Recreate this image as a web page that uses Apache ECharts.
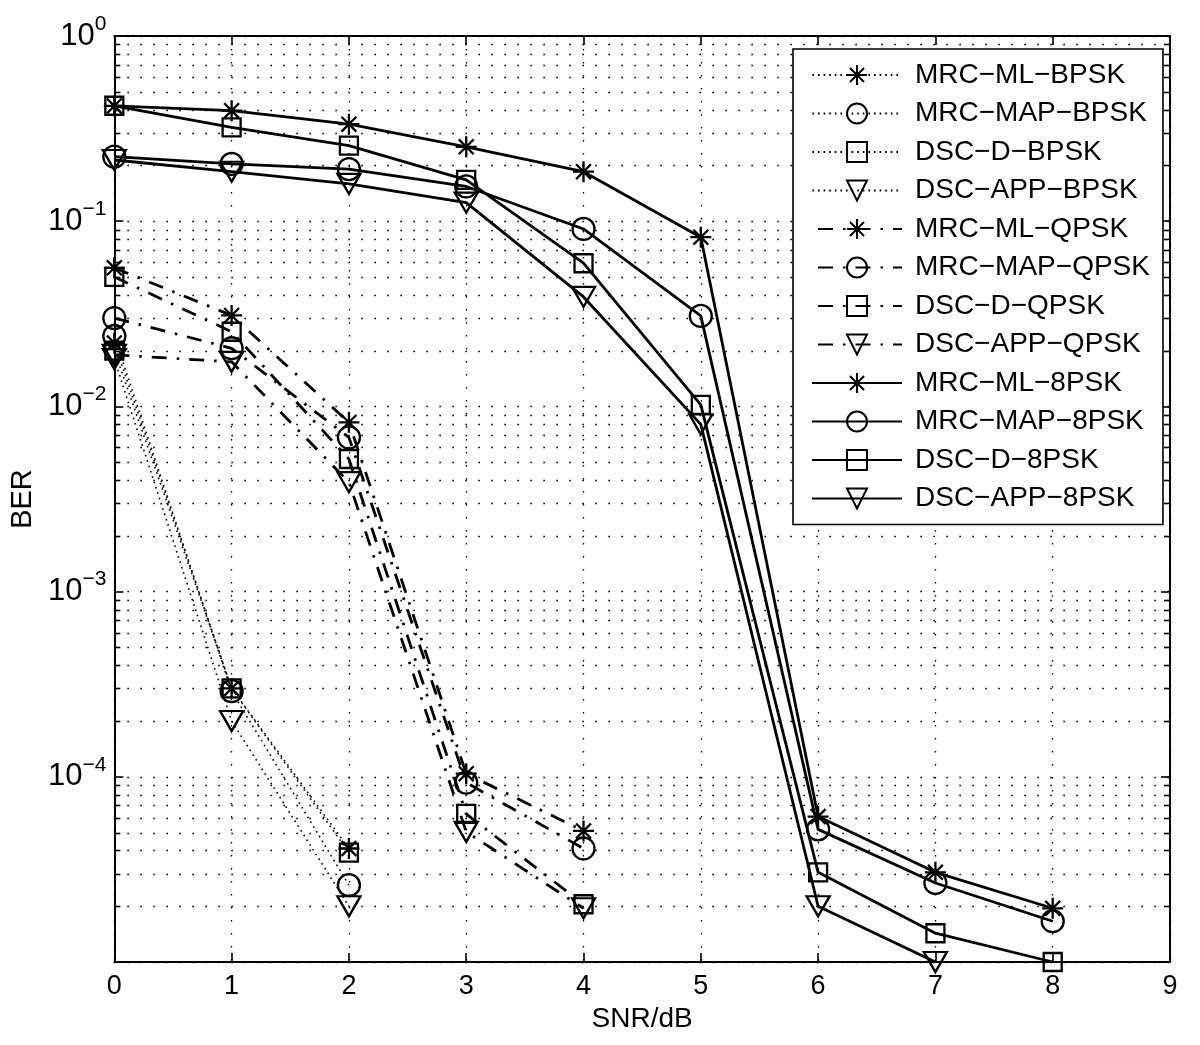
<!DOCTYPE html>
<html>
<head>
<meta charset="utf-8">
<script src="https://cdn.jsdelivr.net/npm/echarts@6/dist/echarts.min.js"></script>
<style>
html,body{margin:0;padding:0;background:#fff;}
#chart{width:1200px;height:1045px;}
</style>
</head>
<body>
<div id="chart"></div>
<script>
// ---- data ----
const snrBpsk = [0, 1, 2];
const snrQpsk = [0, 1, 2, 3, 4];
const snr8psk = [0, 1, 2, 3, 4, 5, 6, 7, 8];
const snrApp8psk = [0, 1, 2, 3, 4, 5, 6, 7];

const mrcMlBpsk   = [0.022, 3.0e-4, 4.1e-5];
const mrcMapBpsk  = [0.024, 2.9e-4, 2.6e-5];
const dscDBpsk    = [0.020, 3.0e-4, 3.9e-5];
const dscAppBpsk  = [0.018, 2.0e-4, 2.0e-5];

const mrcMlQpsk   = [0.056, 0.031, 0.0082, 1.04e-4, 5.1e-5];
const mrcMapQpsk  = [0.030, 0.0206, 0.0068, 9.3e-5, 4.1e-5];
const dscDQpsk    = [0.050, 0.0253, 0.0052, 6.3e-5, 2.05e-5];
const dscAppQpsk  = [0.019, 0.0174, 0.0039, 5.05e-5, 1.95e-5];

const mrcMl8psk   = [0.419, 0.395, 0.334, 0.252, 0.185, 0.082, 6.1e-5, 3.05e-5, 1.95e-5];
const mrcMap8psk  = [0.223, 0.204, 0.191, 0.154, 0.0908, 0.0308, 5.2e-5, 2.67e-5, 1.66e-5];
const dscD8psk    = [0.42, 0.321, 0.256, 0.167, 0.0593, 0.0102, 3.05e-5, 1.43e-5, 1.0e-5];
const dscApp8psk  = [0.214, 0.185, 0.159, 0.126, 0.039, 0.0080, 2.0e-5, 1.0e-5];

const seriesNames = [
  'MRC\u2212ML\u2212BPSK', 'MRC\u2212MAP\u2212BPSK', 'DSC\u2212D\u2212BPSK', 'DSC\u2212APP\u2212BPSK',
  'MRC\u2212ML\u2212QPSK', 'MRC\u2212MAP\u2212QPSK', 'DSC\u2212D\u2212QPSK', 'DSC\u2212APP\u2212QPSK',
  'MRC\u2212ML\u22128PSK', 'MRC\u2212MAP\u22128PSK', 'DSC\u2212D\u22128PSK', 'DSC\u2212APP\u22128PSK'
];

const xTickLabels = ['0','1','2','3','4','5','6','7','8','9'];
const yTickValues = [1, 0.1, 0.01, 0.001, 0.0001, 0.00001];
const yTickExps   = ['0', '\u22121', '\u22122', '\u22123', '\u22124', ''];
const yMinorMantissas = [2, 3, 4, 5, 6, 7, 8, 9];
const yDecades = [1e-5, 1e-4, 1e-3, 1e-2, 1e-1];

// ---- styles ----
const FONT = '"Liberation Sans", Arial, Helvetica, sans-serif';
const SYM = {
  star: 'path://M10,0L10,20M0,10L20,10M2.93,2.93L17.07,17.07M2.93,17.07L17.07,2.93',
  circle: 'circle',
  square: 'rect',
  tri: 'path://M0,0L20,0L10,17Z'
};
const SYMSIZE = {star: 21, circle: 22, square: 18, tri: [23, 20]};
const LINE = {
  dot: {type: [1.6, 4], width: 1.6, color: '#000'},
  dashdot: {type: [15, 10, 2.5, 10], width: 2.8, color: '#000'},
  solid: {type: 'solid', width: 2.8, color: '#000'}
};

function pairs(xs, ys) { return ys.map((v, i) => [xs[i], v]); }

function mk(name, xs, ys, sym, line) {
  return {
    name: name,
    type: 'line',
    data: pairs(xs, ys),
    symbol: SYM[sym],
    symbolSize: SYMSIZE[sym],
    showSymbol: true,
    clip: false,
    lineStyle: LINE[line],
    itemStyle: {color: 'rgba(0,0,0,0)', borderColor: '#000', borderWidth: 2.3},
    emphasis: {disabled: true},
    z: 5
  };
}

const series = [
  mk(seriesNames[0], snrBpsk, mrcMlBpsk, 'star', 'dot'),
  mk(seriesNames[1], snrBpsk, mrcMapBpsk, 'circle', 'dot'),
  mk(seriesNames[2], snrBpsk, dscDBpsk, 'square', 'dot'),
  mk(seriesNames[3], snrBpsk, dscAppBpsk, 'tri', 'dot'),
  mk(seriesNames[4], snrQpsk, mrcMlQpsk, 'star', 'dashdot'),
  mk(seriesNames[5], snrQpsk, mrcMapQpsk, 'circle', 'dashdot'),
  mk(seriesNames[6], snrQpsk, dscDQpsk, 'square', 'dashdot'),
  mk(seriesNames[7], snrQpsk, dscAppQpsk, 'tri', 'dashdot'),
  mk(seriesNames[8], snr8psk, mrcMl8psk, 'star', 'solid'),
  mk(seriesNames[9], snr8psk, mrcMap8psk, 'circle', 'solid'),
  mk(seriesNames[10], snr8psk, dscD8psk, 'square', 'solid'),
  mk(seriesNames[11], snrApp8psk, dscApp8psk, 'tri', 'solid')
];

// minor log grid lines + minor ticks (left/right) drawn through the axis scale
const minorVals = [];
yDecades.forEach(d => yMinorMantissas.forEach(m => minorVals.push([0, m * d])));
series.push({
  type: 'custom',
  silent: true,
  z: 1,
  clip: false,
  data: minorVals,
  encode: {x: 0, y: 1},
  renderItem: function (params, api) {
    const v = api.value(1);
    const p0 = api.coord([0, v]);
    const p1 = api.coord([9, v]);
    const y = Math.round(p0[1]) + 0.5;
    return {
      type: 'group',
      children: [
        {type: 'line', shape: {x1: p0[0] + 7, y1: y, x2: p1[0] - 7, y2: y},
         style: {stroke: '#000', lineWidth: 1.3, lineDash: [1.6, 11.4], lineDashOffset: -6}},
        {type: 'line', shape: {x1: p0[0], y1: y, x2: p0[0] + 6, y2: y},
         style: {stroke: '#000', lineWidth: 1.6}},
        {type: 'line', shape: {x1: p1[0] - 6, y1: y, x2: p1[0], y2: y},
         style: {stroke: '#000', lineWidth: 1.6}}
      ]
    };
  }
});

const gridLine = {show: true, lineStyle: {color: '#000', width: 1.3, type: [1.6, 11.4]}};

const option = {
  animation: false,
  backgroundColor: '#fff',
  grid: {left: 113, right: 30, top: 36, bottom: 83, containLabel: false},
  xAxis: [
    {
      type: 'value', min: 0, max: 9, interval: 1, position: 'bottom',
      name: 'SNR/dB', nameLocation: 'middle', nameGap: 42,
      nameTextStyle: {fontSize: 28, fontFamily: FONT, color: '#000'},
      axisLine: {show: true, onZero: false, lineStyle: {color: '#000', width: 2}},
      axisTick: {show: true, inside: true, length: 9, lineStyle: {color: '#000', width: 1.6}},
      axisLabel: {fontSize: 27, fontFamily: FONT, color: '#000', margin: 11,
        formatter: v => xTickLabels[Math.round(v)]},
      splitLine: gridLine
    },
    {
      type: 'value', min: 0, max: 9, interval: 1, position: 'top',
      axisLine: {show: true, onZero: false, lineStyle: {color: '#000', width: 2}},
      axisTick: {show: true, inside: true, length: 9, lineStyle: {color: '#000', width: 1.6}},
      axisLabel: {show: false},
      splitLine: {show: false}
    }
  ],
  yAxis: [
    {
      type: 'log', logBase: 10, min: 1e-5, max: 1, position: 'left',
      name: 'BER', nameLocation: 'middle', nameGap: 73, nameRotate: 90,
      nameTextStyle: {fontSize: 29, fontFamily: FONT, color: '#000'},
      axisLine: {show: true, onZero: false, lineStyle: {color: '#000', width: 2}},
      axisTick: {show: true, inside: true, length: 9, lineStyle: {color: '#000', width: 1.6}},
      axisLabel: {
        margin: 8, fontFamily: FONT, color: '#000',
        formatter: function (v) {
          let idx = yTickValues.findIndex(t => Math.abs(Math.log10(t) - Math.log10(v)) < 1e-6);
          if (idx < 0 || yTickExps[idx] === '') return '';
          return '{b|10}{s|' + yTickExps[idx] + '}';
        },
        rich: {
          b: {fontSize: 31, fontFamily: FONT, color: '#000'},
          s: {fontSize: 21, fontFamily: FONT, color: '#000', padding: [0, 0, 24, 0]}
        }
      },
      splitLine: gridLine
    },
    {
      type: 'log', logBase: 10, min: 1e-5, max: 1, position: 'right',
      axisLine: {show: true, onZero: false, lineStyle: {color: '#000', width: 2}},
      axisTick: {show: true, inside: true, length: 9, lineStyle: {color: '#000', width: 1.6}},
      axisLabel: {show: false},
      splitLine: {show: false}
    }
  ],
  legend: {
    data: seriesNames,
    orient: 'vertical',
    left: 793, top: 49,
    padding: [12, 13, 12, 18],
    itemWidth: 90, itemHeight: 25, itemGap: 10.5,
    backgroundColor: '#fff',
    borderColor: '#000', borderWidth: 1.6,
    selectedMode: false,
    textStyle: {fontSize: 28, fontFamily: FONT, color: '#000', padding: [0, 0, 0, 8]}
  },
  series: series
};

const chart = echarts.init(document.getElementById('chart'), null, {renderer: 'canvas'});
chart.setOption(option);
</script>
</body>
</html>
